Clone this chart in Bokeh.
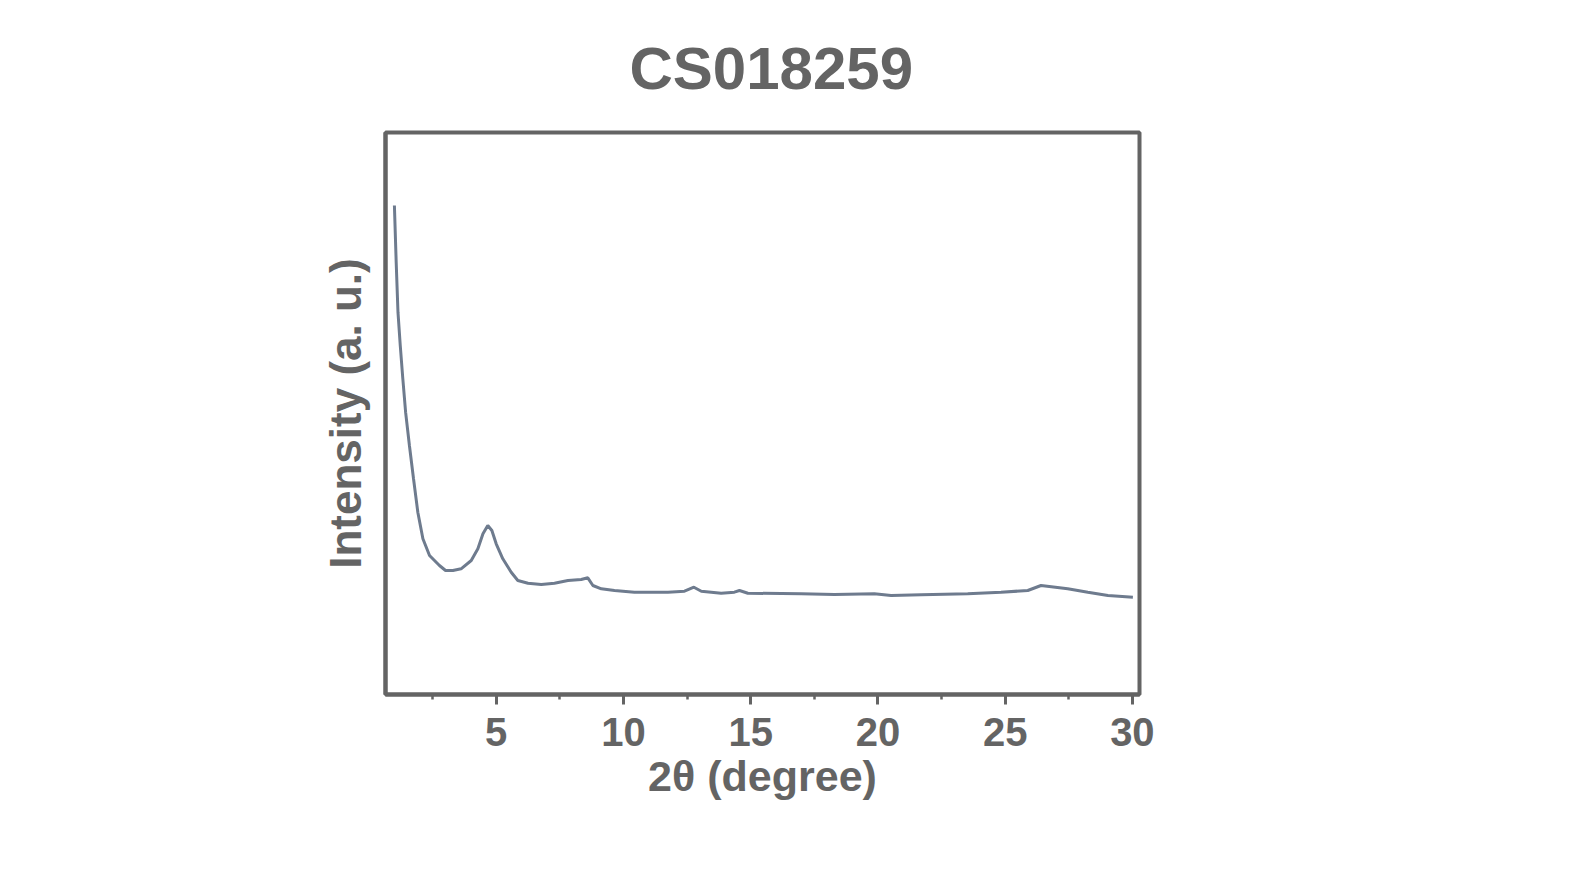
from bokeh.plotting import figure
from bokeh.models import SingleIntervalTicker
from bokeh.embed import file_html
from bokeh.resources import INLINE

# Data (2-theta in degrees, intensity in arbitrary units)
two_theta = [1.00, 1.07, 1.14, 1.23, 1.33, 1.44, 1.59, 1.75, 1.92, 2.12, 2.38, 2.77,
             3.01, 3.30, 3.62, 4.02, 4.28, 4.48, 4.67, 4.83, 5.00, 5.26, 5.59, 5.85,
             6.25, 6.77, 7.29, 7.82, 8.34, 8.60, 8.80, 9.13, 9.65, 10.43, 11.75, 12.40,
             12.77, 13.06, 13.84, 14.36, 14.56, 14.89, 16.98, 18.29, 19.86, 20.52, 21.70,
             23.53, 24.84, 25.89, 26.41, 27.46, 28.25, 29.04, 30.02]
intensity = [4890, 4323, 3823, 3490, 3160, 2823, 2490, 2160, 1823, 1557, 1390, 1290,
             1240, 1240, 1257, 1340, 1457, 1607, 1690, 1640, 1507, 1357, 1223, 1140,
             1113, 1100, 1113, 1140, 1150, 1167, 1090, 1057, 1040, 1023, 1023, 1033,
             1073, 1033, 1013, 1023, 1040, 1013, 1007, 1000, 1007, 990, 997,
             1007, 1023, 1040, 1090, 1057, 1023, 990, 973]

x_ticks_interval = 5
title_text = "CS018259"
x_label = "2θ (degree)"
y_label = "Intensity (a. u.)"

GREY = "#646464"
FONT = "Liberation Sans"

p = figure(width=1558, height=865, x_range=(0.65, 30.28), y_range=(0, 5620),
           output_backend="svg", toolbar_location=None,
           min_border_left=385, min_border_right=419,
           min_border_top=132, min_border_bottom=171)

p.background_fill_color = "white"
p.border_fill_color = "white"
p.xgrid.visible = False
p.ygrid.visible = False
p.outline_line_color = GREY
p.outline_line_width = 4
p.outline_line_alpha = 1.0

p.line(two_theta, intensity, line_color="#6e7b8e", line_width=3)

# Title
p.title.text = title_text
p.title.text_font = FONT
p.title.text_font_style = "bold"
p.title.text_font_size = "60px"
p.title.text_color = GREY
p.title.align = "left"
p.title.offset = 244
p.title.standoff = 62

# X axis
xa = p.xaxis[0]
xa.ticker = SingleIntervalTicker(interval=x_ticks_interval, num_minor_ticks=2)
xa.axis_line_color = GREY
xa.axis_line_width = 4
xa.major_tick_line_color = GREY
xa.major_tick_line_width = 3
xa.major_tick_in = 0
xa.major_tick_out = 10
xa.minor_tick_line_color = GREY
xa.minor_tick_line_width = 2.5
xa.minor_tick_in = 0
xa.minor_tick_out = 5
xa.major_label_text_font = FONT
xa.major_label_text_font_style = "bold"
xa.major_label_text_font_size = "40px"
xa.major_label_text_color = GREY
xa.major_label_standoff = 13
xa.axis_label = x_label
xa.axis_label_text_font = FONT
xa.axis_label_text_font_style = "bold"
xa.axis_label_text_font_size = "43px"
xa.axis_label_text_color = GREY
xa.axis_label_standoff = 3

# Y axis (no ticks, no tick labels)
ya = p.yaxis[0]
ya.axis_line_color = GREY
ya.axis_line_width = 4
ya.major_tick_line_color = None
ya.minor_tick_line_color = None
ya.major_label_text_font_size = "0px"
ya.major_label_text_color = None
ya.major_label_standoff = 0
ya.axis_label = y_label
ya.axis_label_text_font = FONT
ya.axis_label_text_font_style = "bold"
ya.axis_label_text_font_size = "44px"
ya.axis_label_text_color = GREY
ya.axis_label_standoff = 10

open("out.html", "w").write(file_html(p, INLINE))
